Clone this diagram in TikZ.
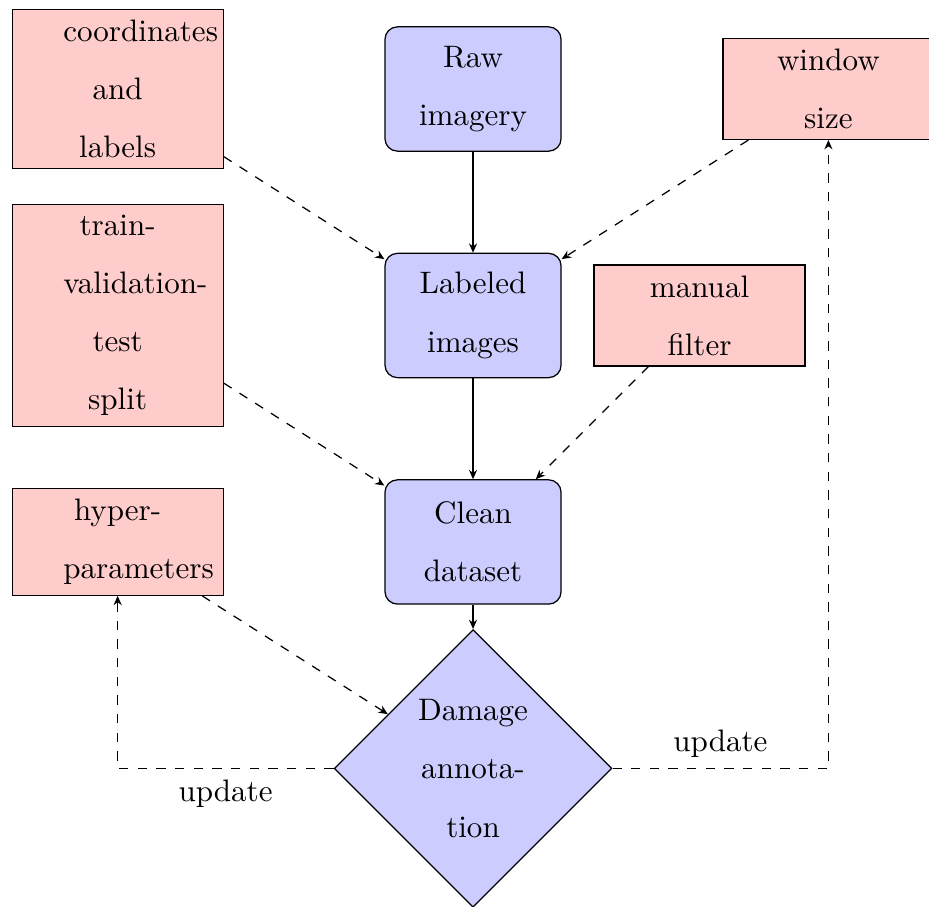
\documentclass[tikz,border=0pt]{standalone}
\usepackage{tikz}
\usetikzlibrary{shapes.geometric, positioning, arrows.meta}
\tikzset{
block/.style={rectangle, draw, fill=blue!20, text width=5em, text centered, rounded corners, minimum height=4em, font=\linespread{1.56}\selectfont},
inputbox/.style={rectangle, draw, fill=red!20, text width=3.5em, text centered, minimum width=2.387cm, font=\linespread{1.56}\selectfont},
decision/.style={diamond, draw, fill=blue!20, text width=4.5em, text badly centered, inner sep=0pt, font=\linespread{1.56}\selectfont},
line/.style={draw, -{Stealth[length=3pt, width=2.6pt]}}}

\begin{document}
\begin{tikzpicture}[on grid, node distance=2.562cm and 4.02cm]
\useasboundingbox (-5.351, 1.007) rectangle (5.158, -9.253);
\node [block] (raw) {Raw imagery};
\node [block, below=of raw] (labeled) {Labeled images};
\node [block, below=of labeled] (clean) {Clean dataset};
\node [decision, below=of clean] (annot) {Damage annotation};
\node [inputbox, left=of raw] (coords) {coordinates and labels};
\node [inputbox, right=of raw] (window) {window size};
\node [inputbox, left=of labeled] (split) {train-validation-test split};
\node [inputbox, right=2.562cm of labeled] (filter) {manual filter};
\node [inputbox, left=of clean] (hyper) {hyper-parameters};
% main flow
\path [line] (raw) -- (labeled);
\path [line] (labeled) -- (clean);
\path [line] (clean) -- (annot);
% inputs
\path [line, dashed] (coords) -- (labeled);
\path [line, dashed] (window) -- (labeled);
\path [line, dashed] (split) -- (clean);
\path [line, dashed] (filter) -- (clean);
\path [line, dashed] (hyper) -- (annot);
% feedback
\path [line, dashed] (annot) -| node [pos=0.25, below] {update} (hyper);
\path [line, dashed] (annot) -| node [pos=0.25, above] {update} (window);
\end{tikzpicture}
\end{document}
